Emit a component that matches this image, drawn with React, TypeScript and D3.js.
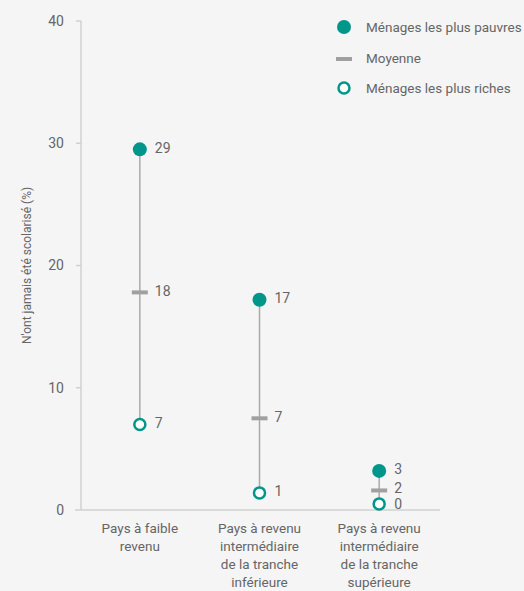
import React, { useEffect } from "react";
import * as d3 from "d3";

const categories = [
  ["Pays à faible", "revenu"],
  ["Pays à revenu", "intermédiaire", "de la tranche", "inférieure"],
  ["Pays à revenu", "intermédiaire", "de la tranche", "supérieure"],
];
const poorest = [29.5, 17.2, 3.2];
const average = [17.8, 7.5, 1.6];
const richest = [7.0, 1.4, 0.5];
const poorestLabels = ["29", "17", "3"];
const averageLabels = ["18", "7", "2"];
const richestLabels = ["7", "1", "0"];
const yTicks = [0, 10, 20, 30, 40];
const legendItems = ["Ménages les plus pauvres", "Moyenne", "Ménages les plus riches"];
const yTitle = "N'ont jamais été scolarisé (%)";

const W = 524;
const H = 591;
const TEAL = "#00968a";
const FONT = "Roboto, 'Open Sans', sans-serif";

function spread(ys: number[], gap: number): number[] {
  const idx = ys.map((_, i) => i).sort((a, b) => ys[a] - ys[b]);
  const pos = idx.map((i) => ys[i]);
  for (let iter = 0; iter < 50; iter++) {
    let moved = false;
    for (let k = 1; k < pos.length; k++) {
      const d = pos[k] - pos[k - 1];
      if (d < gap) {
        const m = (gap - d) / 2;
        pos[k - 1] -= m;
        pos[k] += m;
        moved = true;
      }
    }
    if (!moved) break;
  }
  const out = ys.slice();
  idx.forEach((i, k) => (out[i] = pos[k]));
  return out;
}

export default function App() {
  useEffect(() => {
    document.body.style.margin = "0";
  }, []);

  const y = d3.scaleLinear().domain([0, 40]).range([510, 21]);
  const x = d3
    .scaleBand<number>()
    .domain(categories.map((_, i) => i))
    .range([81, 440])
    .paddingInner(0)
    .paddingOuter(0);
  const cx = (i: number) => (x(i) as number) + x.bandwidth() / 2 - 1;

  return (
    <svg width={W} height={H} style={{ display: "block", fontFamily: FONT }}>
      <rect x={0} y={0} width={W} height={H} fill="#f5f5f5" />
      {/* y axis */}
      <line x1={81} x2={81} y1={y(40)} y2={y(0)} stroke="#d0d0d0" strokeWidth={1.5} />
      {yTicks.map((t) => (
        <g key={t}>
          {t > 0 && <line x1={76} x2={81} y1={y(t)} y2={y(t)} stroke="#d0d0d0" strokeWidth={1.5} />}
          <text x={64} y={y(t)} dy="0.35em" textAnchor="end" fontSize={14} fill="#666">
            {t}
          </text>
        </g>
      ))}
      <line x1={75} x2={440} y1={y(0)} y2={y(0)} stroke="#d0d0d0" strokeWidth={1.5} />
      <text
        transform={`translate(27,${y(20)}) rotate(-90)`}
        textAnchor="middle"
        dy="0.35em"
        fontSize={12}
        fill="#666"
      >
        {yTitle}
      </text>
      {/* category labels */}
      {categories.map((lines, i) => (
        <text key={i} x={cx(i)} y={528} textAnchor="middle" fontSize={13.5} fill="#666">
          {lines.map((l, j) => (
            <tspan key={j} x={cx(i)} y={533 + j * 18}>
              {l}
            </tspan>
          ))}
        </text>
      ))}
      {/* dumbbells */}
      {categories.map((_, i) => {
        const px = cx(i);
        const ys = [y(poorest[i]), y(average[i]), y(richest[i])];
        const ly = spread(ys, 16).map((v) => v - 1.5);
        const labels = [poorestLabels[i], averageLabels[i], richestLabels[i]];
        return (
          <g key={i}>
            <line x1={px} x2={px} y1={ys[0]} y2={ys[2]} stroke="#aaa" strokeWidth={1.5} />
            <line x1={px - 8} x2={px + 8} y1={ys[1]} y2={ys[1]} stroke="#a0a0a0" strokeWidth={4} />
            <circle cx={px} cy={ys[0]} r={7} fill={TEAL} />
            <circle cx={px} cy={ys[2]} r={5.5} fill="#fff" stroke={TEAL} strokeWidth={2.5} />
            {labels.map((l, k) => (
              <text key={k} x={px + 15} y={ly[k]} dy="0.35em" fontSize={14} fill="#666">
                {l}
              </text>
            ))}
          </g>
        );
      })}
      {/* legend */}
      <g>
        <circle cx={344} cy={27} r={7} fill={TEAL} />
        <text x={366} y={27} dy="0.35em" fontSize={13.5} fill="#666">
          {legendItems[0]}
        </text>
        <line x1={336} x2={352} y1={59} y2={59} stroke="#a0a0a0" strokeWidth={4} />
        <text x={366} y={58} dy="0.35em" fontSize={13.5} fill="#666">
          {legendItems[1]}
        </text>
        <circle cx={344} cy={88} r={5.5} fill="#fff" stroke={TEAL} strokeWidth={2.5} />
        <text x={366} y={88} dy="0.35em" fontSize={13.5} fill="#666">
          {legendItems[2]}
        </text>
      </g>
    </svg>
  );
}
